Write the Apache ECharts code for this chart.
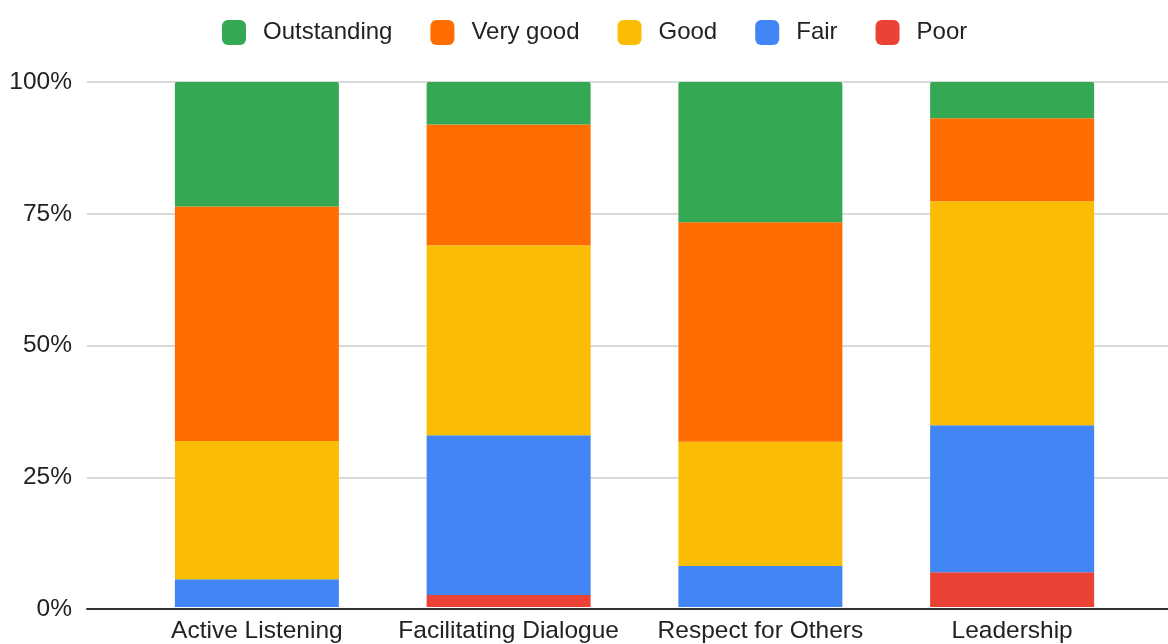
<!DOCTYPE html>
<html>
<head>
<meta charset="utf-8">
<script src="https://cdn.jsdelivr.net/npm/echarts@6/dist/echarts.min.js"></script>
<style>
html,body{margin:0;padding:0;background:#fff;}
#chart{width:1168px;height:644px;}
</style>
</head>
<body>
<div id="chart"></div>
<script>
const categories = ['Active Listening', 'Facilitating Dialogue', 'Respect for Others', 'Leadership'];
const poor        = [0,    2.3,  0,    6.6];
const fair        = [5.3,  30.4, 7.8,  28.0];
const good        = [26.3, 36.2, 23.7, 42.7];
const veryGood    = [44.7, 23.0, 41.8, 15.8];
const outstanding = [23.7, 8.1,  26.7, 6.9];
const yTicks = [0, 25, 50, 75, 100];
const legendOrder = ['Outstanding', 'Very good', 'Good', 'Fair', 'Poor'];

const FONT = '"Liberation Sans", Arial, Helvetica, sans-serif';
const colors = {
  'Outstanding': '#34a853',
  'Very good': '#ff6d01',
  'Good': '#fbbc04',
  'Fair': '#4285f4',
  'Poor': '#ea4335'
};

const stackSeries = [
  ['Poor', poor],
  ['Fair', fair],
  ['Good', good],
  ['Very good', veryGood],
  ['Outstanding', outstanding]
].map(([name, data], i, arr) => ({
  name: name,
  type: 'bar',
  stack: 'total',
  xAxisIndex: 1,
  yAxisIndex: 1,
  barWidth: 164,
  data: data,
  itemStyle: {
    color: colors[name],
    borderRadius: i === arr.length - 1 ? [2, 2, 0, 0] : 0
  },
  emphasis: { disabled: true }
}));

const chart = echarts.init(document.getElementById('chart'), null, { renderer: 'canvas' });
chart.setOption({
  animation: false,
  backgroundColor: '#ffffff',
  textStyle: { fontFamily: FONT },
  legend: {
    data: legendOrder,
    top: 15,
    left: 217,
    itemWidth: 24,
    itemHeight: 25,
    itemGap: 38,
    icon: 'roundRect',
    textStyle: { fontSize: 24, color: '#222222', fontFamily: FONT, padding: [0, 0, 0, 12] }
  },
  grid: [
    { left: 87, right: 0, top: 82, bottom: 35 },
    { left: 131, right: 30, top: 82, bottom: 35 }
  ],
  xAxis: [
    {
      gridIndex: 0, type: 'category', data: categories, z: 5,
      axisLine: { show: true, lineStyle: { color: '#333333', width: 2 } },
      axisTick: { show: false }, axisLabel: { show: false }, splitLine: { show: false }
    },
    {
      gridIndex: 1, type: 'category', data: categories,
      axisLine: { show: false }, axisTick: { show: false },
      axisLabel: { show: true, color: '#222222', fontSize: 24.5, fontFamily: FONT, margin: 12, interval: 0 }
    }
  ],
  yAxis: [
    {
      gridIndex: 0, type: 'value', min: yTicks[0], max: yTicks[yTicks.length - 1], interval: 25,
      axisLine: { show: false }, axisTick: { show: false },
      axisLabel: { color: '#222222', fontSize: 24.5, fontFamily: FONT, margin: 15, formatter: '{value}%' },
      splitLine: { show: true, lineStyle: { color: '#cccccc', width: 1.5 } }
    },
    {
      gridIndex: 1, type: 'value', min: 0, max: 100, interval: 25, show: false,
      splitLine: { show: false }
    }
  ],
  series: stackSeries
});
</script>
</body>
</html>
